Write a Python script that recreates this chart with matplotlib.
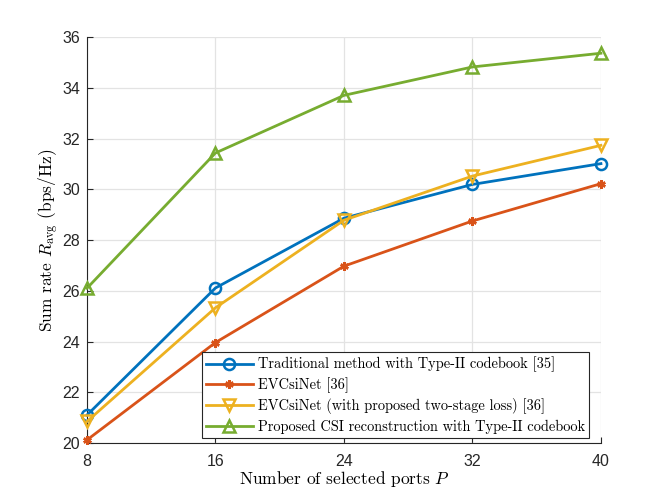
import matplotlib
matplotlib.use("Agg")
import matplotlib.pyplot as plt

plt.rcParams.update({"mathtext.fontset": "cm", "font.family": "Liberation Sans"})

ports = [8, 16, 24, 32, 40]
traditional = [21.1, 26.11, 28.86, 30.19, 31.01]
evcsinet = [20.12, 23.96, 26.97, 28.75, 30.22]
evcsinet_two_stage = [20.85, 25.33, 28.78, 30.52, 31.73]
proposed = [26.1, 31.43, 33.7, 34.82, 35.36]

labels = [
    "Traditional method with Type-II codebook [35]",
    "EVCsiNet [36]",
    "EVCsiNet (with proposed two-stage loss) [36]",
    "Proposed CSI reconstruction with Type-II codebook",
]
series = [traditional, evcsinet, evcsinet_two_stage, proposed]
colors = ["#0072BD", "#D95319", "#EDB120", "#77AC30"]
markers = ["o", (6, 2, 0), "v", "^"]

fig = plt.figure(figsize=(6.64, 4.98), dpi=100)
ax = fig.add_axes([0.131, 0.1104, 0.774, 0.8153])

for vals, lab, c, m in zip(series, labels, colors, markers):
    ax.plot(ports, vals, color=c, marker=m, markersize=8 if m != markers[1] else 6,
            markerfacecolor="none", markeredgewidth=1.8, linewidth=2, label=lab,
            clip_on=False, zorder=3)

ax.set_xlim(8, 40)
ax.set_ylim(20, 36)
ax.set_xticks(ports)
ax.set_yticks(range(20, 37, 2))
ax.grid(True, color="#e3e3e3", linewidth=0.9)
ax.set_axisbelow(True)
for s in ["top", "right"]:
    ax.spines[s].set_visible(False)
for s in ["left", "bottom"]:
    ax.spines[s].set_color("#262626")
ax.tick_params(direction="in", labelsize=11.5, colors="#262626", length=4)
ax.tick_params(axis="x", pad=8)
ax.tick_params(axis="y", pad=5)

cm = {"family": "cmr10", "size": 12.5}
ax.set_xlabel(r"Number of selected ports $P$", fontdict=cm, labelpad=0)
ax.set_ylabel(r"Sum rate $R_{\rm avg}$ (bps/Hz)", fontdict=cm, labelpad=1)

leg = ax.legend(loc="lower right", bbox_to_anchor=(0.977, 0.012), prop={"family": "cmr10", "size": 10.4},
                fancybox=False, edgecolor="#262626", framealpha=1, borderpad=0.3,
                labelspacing=0.36, handlelength=3.2, handletextpad=0.35, borderaxespad=0)
leg.get_frame().set_linewidth(0.8)

fig.savefig("out.png", dpi=100)
